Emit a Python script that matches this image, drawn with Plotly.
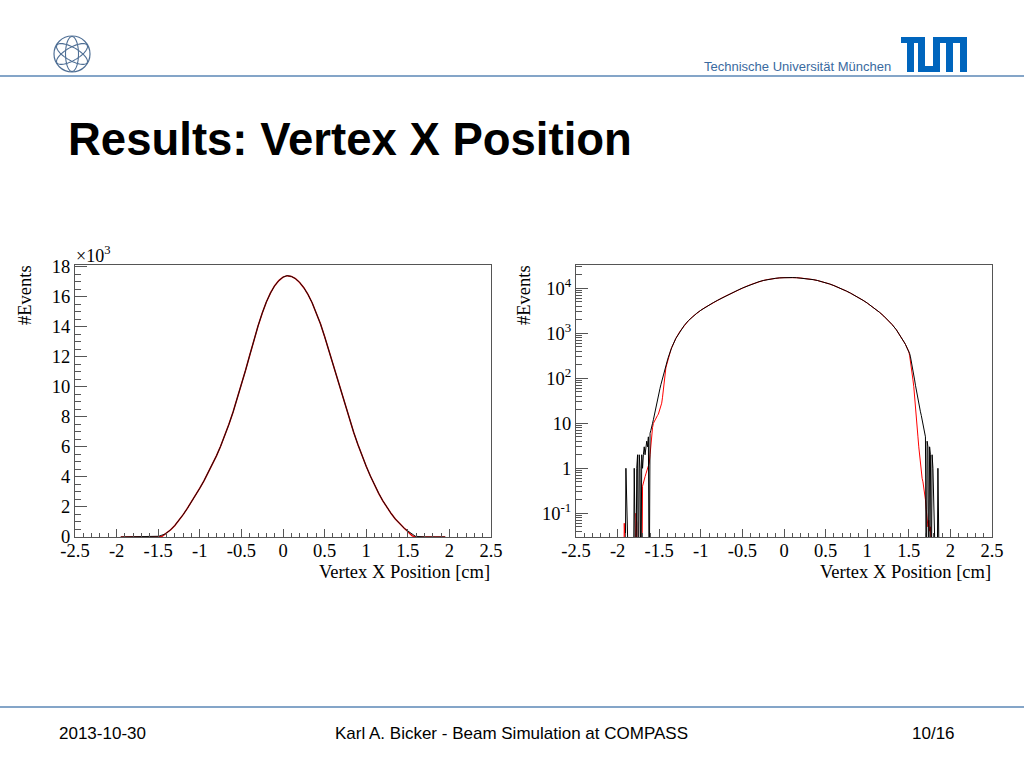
import numpy as np
import plotly.graph_objects as go

# ---------------- data ----------------
# left tail bins (width 0.01) from -1.95 to -1.36
left_tail_x = np.round(np.arange(-1.95, -1.355, 0.01), 2)
black_left = [0, 0, 0, 0, 0, 1, 0, 0, 0, 0,
              0, 0, 0, 0, 0, 1, 0, 0, 1, 2,
              0, 2, 1, 0, 2, 1, 2, 3, 2, 3,
              4, 3, 5, 0, 6, 7, 8, 10, 12, 15,
              19, 23, 28, 34, 41, 50, 60, 72, 86, 102,
              120, 142, 166, 192, 222, 256, 294, 336, 382, 430]
red_left = [0, 0, 0, 0.06, 0, 0, 0, 0, 0, 0,
            0, 0, 0, 0, 0, 0, 0, 0.1, 0.06, 0,
            0, 0, 0, 0, 0, 0.4, 0.5, 0.6, 0.65, 0.75,
            0.85, 1.0, 1.1, 1.3, 2, 3.5, 6, 8, 10, 11,
            12, 13, 14, 15, 16, 18, 20, 23, 28, 38,
            60, 100, 145, 170, 200, 240, 285, 330, 380, 430]

# core bins (sampled every 0.05) from -1.35 to 1.45, identical in both series
core_x = np.round(np.arange(-1.35, 1.4501, 0.05), 2)
core_counts = [480, 770, 1110, 1490, 1900, 2330, 2780, 3250, 3740, 4260,
               4810, 5400, 6040, 6740, 7500, 8320, 9200, 10130, 11100, 12100,
               13100, 14050, 14900, 15650, 16250, 16730, 17070,
               17300, 17400, 17350, 17200, 16950, 16600, 16150, 15600, 14950, 14200,
               13350, 12450, 11500, 10550, 9600, 8680, 7800, 6960, 6160, 5410,
               4710, 4060, 3460, 2910, 2410, 1960, 1560, 1200, 880, 610]

# right tail bins (width 0.01) from 1.46 to 1.95
right_tail_x = np.round(np.arange(1.46, 1.9501, 0.01), 2)
black_right = [565, 520, 480, 440, 400, 355, 300, 245, 195, 155,
               120, 92, 70, 54, 42, 33, 26, 21, 18, 15,
               12, 10, 8, 6, 5, 0, 4, 3, 0, 3,
               2, 0, 2, 1, 0, 0, 0, 0, 0, 1,
               0, 0, 0, 0, 0, 0, 0, 0, 0, 0]
red_right = [565, 520, 480, 440, 390, 320, 245, 180, 130, 92,
             65, 42, 25, 15, 9, 5, 3, 1.8, 1.2, 0.8,
             0.6, 0.5, 0.38, 0.3, 0.2, 0.12, 0.08, 0.05, 0.07, 0.04,
             0.05, 0, 0, 0, 0, 0, 0, 0, 0, 0,
             0, 0, 0, 0, 0, 0, 0, 0, 0, 0]

x_ticks = [-2.5, -2, -1.5, -1, -0.5, 0, 0.5, 1, 1.5, 2, 2.5]
x_ticktext = ["-2.5", "-2", "-1.5", "-1", "-0.5", "0", "0.5", "1", "1.5", "2", "2.5"]
lin_ticks = [0, 2000, 4000, 6000, 8000, 10000, 12000, 14000, 16000, 18000]
lin_ticktext = ["0", "2", "4", "6", "8", "10", "12", "14", "16", "18"]
log_ticks = [0.1, 1, 10, 100, 1000, 10000]
log_ticktext = ["10<sup>-1</sup>", "1", "10", "10<sup>2</sup>", "10<sup>3</sup>", "10<sup>4</sup>"]

# ---------------- assemble ----------------
x_all = np.concatenate([left_tail_x, core_x, right_tail_x])
black_all = np.array(black_left + core_counts + black_right, dtype=float)
red_all = np.array(red_left + core_counts + red_right, dtype=float)
FLOOR = 1e-3
black_log = np.where(black_all > 0, black_all, FLOOR)
red_log = np.where(red_all > 0, red_all, FLOOR)

W, H = 1024, 768
def px(v):
    return v / W
def py(v):
    return 1 - v / H

SERIF = "Liberation Serif, Times New Roman, serif"
SANS = "Liberation Sans, Arial, sans-serif"
FRAME = "#555555"

fig = go.Figure()
fig.add_trace(go.Scatter(x=x_all, y=red_all, mode="lines", xaxis="x", yaxis="y",
                         line=dict(color="#e00000", width=1.5)))
fig.add_trace(go.Scatter(x=x_all, y=black_all, mode="lines", xaxis="x", yaxis="y",
                         line=dict(color="#111111", width=1)))
fig.add_trace(go.Scatter(x=x_all, y=red_log, mode="lines", xaxis="x2", yaxis="y2",
                         line=dict(color="#ff0000", width=1)))
fig.add_trace(go.Scatter(x=x_all, y=black_log, mode="lines", xaxis="x2", yaxis="y2",
                         line=dict(color="#000000", width=1)))

tickfont = dict(family=SERIF, size=18.5, color="black")

def xaxis_cfg(domain, anchor):
    return dict(domain=domain, anchor=anchor, range=[-2.5, 2.5], automargin=False,
                tickmode="array", tickvals=x_ticks, ticktext=x_ticktext,
                ticks="inside", ticklen=8, tickcolor=FRAME, tickwidth=1,
                ticklabelstandoff=-3,
                minor=dict(ticks="inside", ticklen=4, dtick=0.1, tick0=0,
                           tickcolor=FRAME, showgrid=False),
                showline=True, linecolor=FRAME, linewidth=1, mirror=True,
                showgrid=False, zeroline=False, tickfont=tickfont)

minor_log = [k * 10.0 ** e for e in range(-2, 5) for k in range(2, 10)]

fig.update_layout(
    width=W, height=H,
    margin=dict(l=0, r=0, t=0, b=0, pad=0, autoexpand=False),
    paper_bgcolor="white", plot_bgcolor="white",
    showlegend=False,
    xaxis=xaxis_cfg([px(75), px(491)], "y"),
    yaxis=dict(domain=[py(537), py(265)], anchor="x", range=[0, 18110], automargin=False,
               tickmode="array", tickvals=lin_ticks, ticktext=lin_ticktext,
               ticks="inside", ticklen=12, tickcolor=FRAME,
               minor=dict(ticks="inside", ticklen=6, dtick=500, tick0=0,
                          tickcolor=FRAME, showgrid=False),
               showline=True, linecolor=FRAME, linewidth=1, mirror=True,
               showgrid=False, zeroline=False, tickfont=tickfont),
    xaxis2=xaxis_cfg([px(576), px(992)], "y2"),
    yaxis2=dict(domain=[py(537), py(265)], anchor="x2", type="log", automargin=False,
                range=[-1.527, 4.518],
                tickmode="array", tickvals=log_ticks, ticktext=log_ticktext,
                ticks="inside", ticklen=12, tickcolor=FRAME,
                minor=dict(ticks="inside", ticklen=6, tickmode="array",
                           tickvals=minor_log, tickcolor=FRAME, showgrid=False),
                showline=True, linecolor=FRAME, linewidth=1, mirror=True,
                showgrid=False, zeroline=False, tickfont=tickfont),
)

ann = []
def text(x, y, s, size, family, xanchor="left", yanchor="middle", color="black", angle=0):
    ann.append(dict(x=px(x), y=py(y), xref="paper", yref="paper", text=s,
                    showarrow=False, xanchor=xanchor, yanchor=yanchor,
                    textangle=angle, font=dict(family=family, size=size, color=color)))

text(66, 140, "<b>Results: Vertex X Position</b>", 45.5, SANS)
text(893, 66, "Technische Universität München", 13, SANS, xanchor="right", color="#3a6aa0")
text(57, 733, "2013-10-30", 17, SANS)
text(511, 733, "Karl A. Bicker - Beam Simulation at COMPASS", 17, SANS, xanchor="center")
text(957, 733, "10/16", 17, SANS, xanchor="right")
for xr, xl in [(492, 25), (993, 524)]:
    text(xr, 572, "Vertex X Position [cm]", 18.5, SERIF, xanchor="right")
    text(xl, 263, "#Events", 18.5, SERIF, xanchor="center", yanchor="top", angle=-90)
text(74, 268, "×10<sup>3</sup>", 18, SERIF, xanchor="left", yanchor="bottom")
fig.update_layout(annotations=ann)

shapes = []
LINEC = "#5b87b6"
shapes.append(dict(type="line", xref="paper", yref="paper", x0=0, x1=1, y0=py(76), y1=py(76),
                   line=dict(color=LINEC, width=1.5)))
shapes.append(dict(type="line", xref="paper", yref="paper", x0=0, x1=1, y0=py(707), y1=py(707),
                   line=dict(color=LINEC, width=1.5)))
TUM = "#0065bd"
for (x0, x1, y0, y1) in [(901, 925, 37, 43), (907, 914, 37, 72), (918, 925, 37, 72),
                         (918, 940, 66, 72), (933, 940, 37, 72), (933, 967, 37, 43),
                         (946, 953, 37, 72), (960, 967, 37, 72)]:
    shapes.append(dict(type="rect", xref="paper", yref="paper", x0=px(x0), x1=px(x1),
                       y0=py(y1), y1=py(y0), fillcolor=TUM, line=dict(width=0)))
ATOM = "#4f6f95"
cx, cy, r = 72, 54, 18
shapes.append(dict(type="circle", xref="paper", yref="paper", x0=px(cx - r), x1=px(cx + r),
                   y0=py(cy + r), y1=py(cy - r), line=dict(color=ATOM, width=1.2)))
t = np.linspace(0, 2 * np.pi, 60)
for ang in [90, 30, 150]:
    a = np.deg2rad(ang)
    ex = 17.5 * np.cos(t) * np.cos(a) - 6.5 * np.sin(t) * np.sin(a) + cx
    ey = 17.5 * np.cos(t) * np.sin(a) + 6.5 * np.sin(t) * np.cos(a) + cy
    path = "M " + " L ".join(f"{px(u):.5f},{py(v):.5f}" for u, v in zip(ex, ey)) + " Z"
    shapes.append(dict(type="path", xref="paper", yref="paper", path=path,
                       line=dict(color=ATOM, width=1.1)))
fig.update_layout(shapes=shapes)

fig.write_html("out.html", config={"displayModeBar": False},
               post_script="document.body.style.margin='0px';document.body.style.overflow='hidden';")
